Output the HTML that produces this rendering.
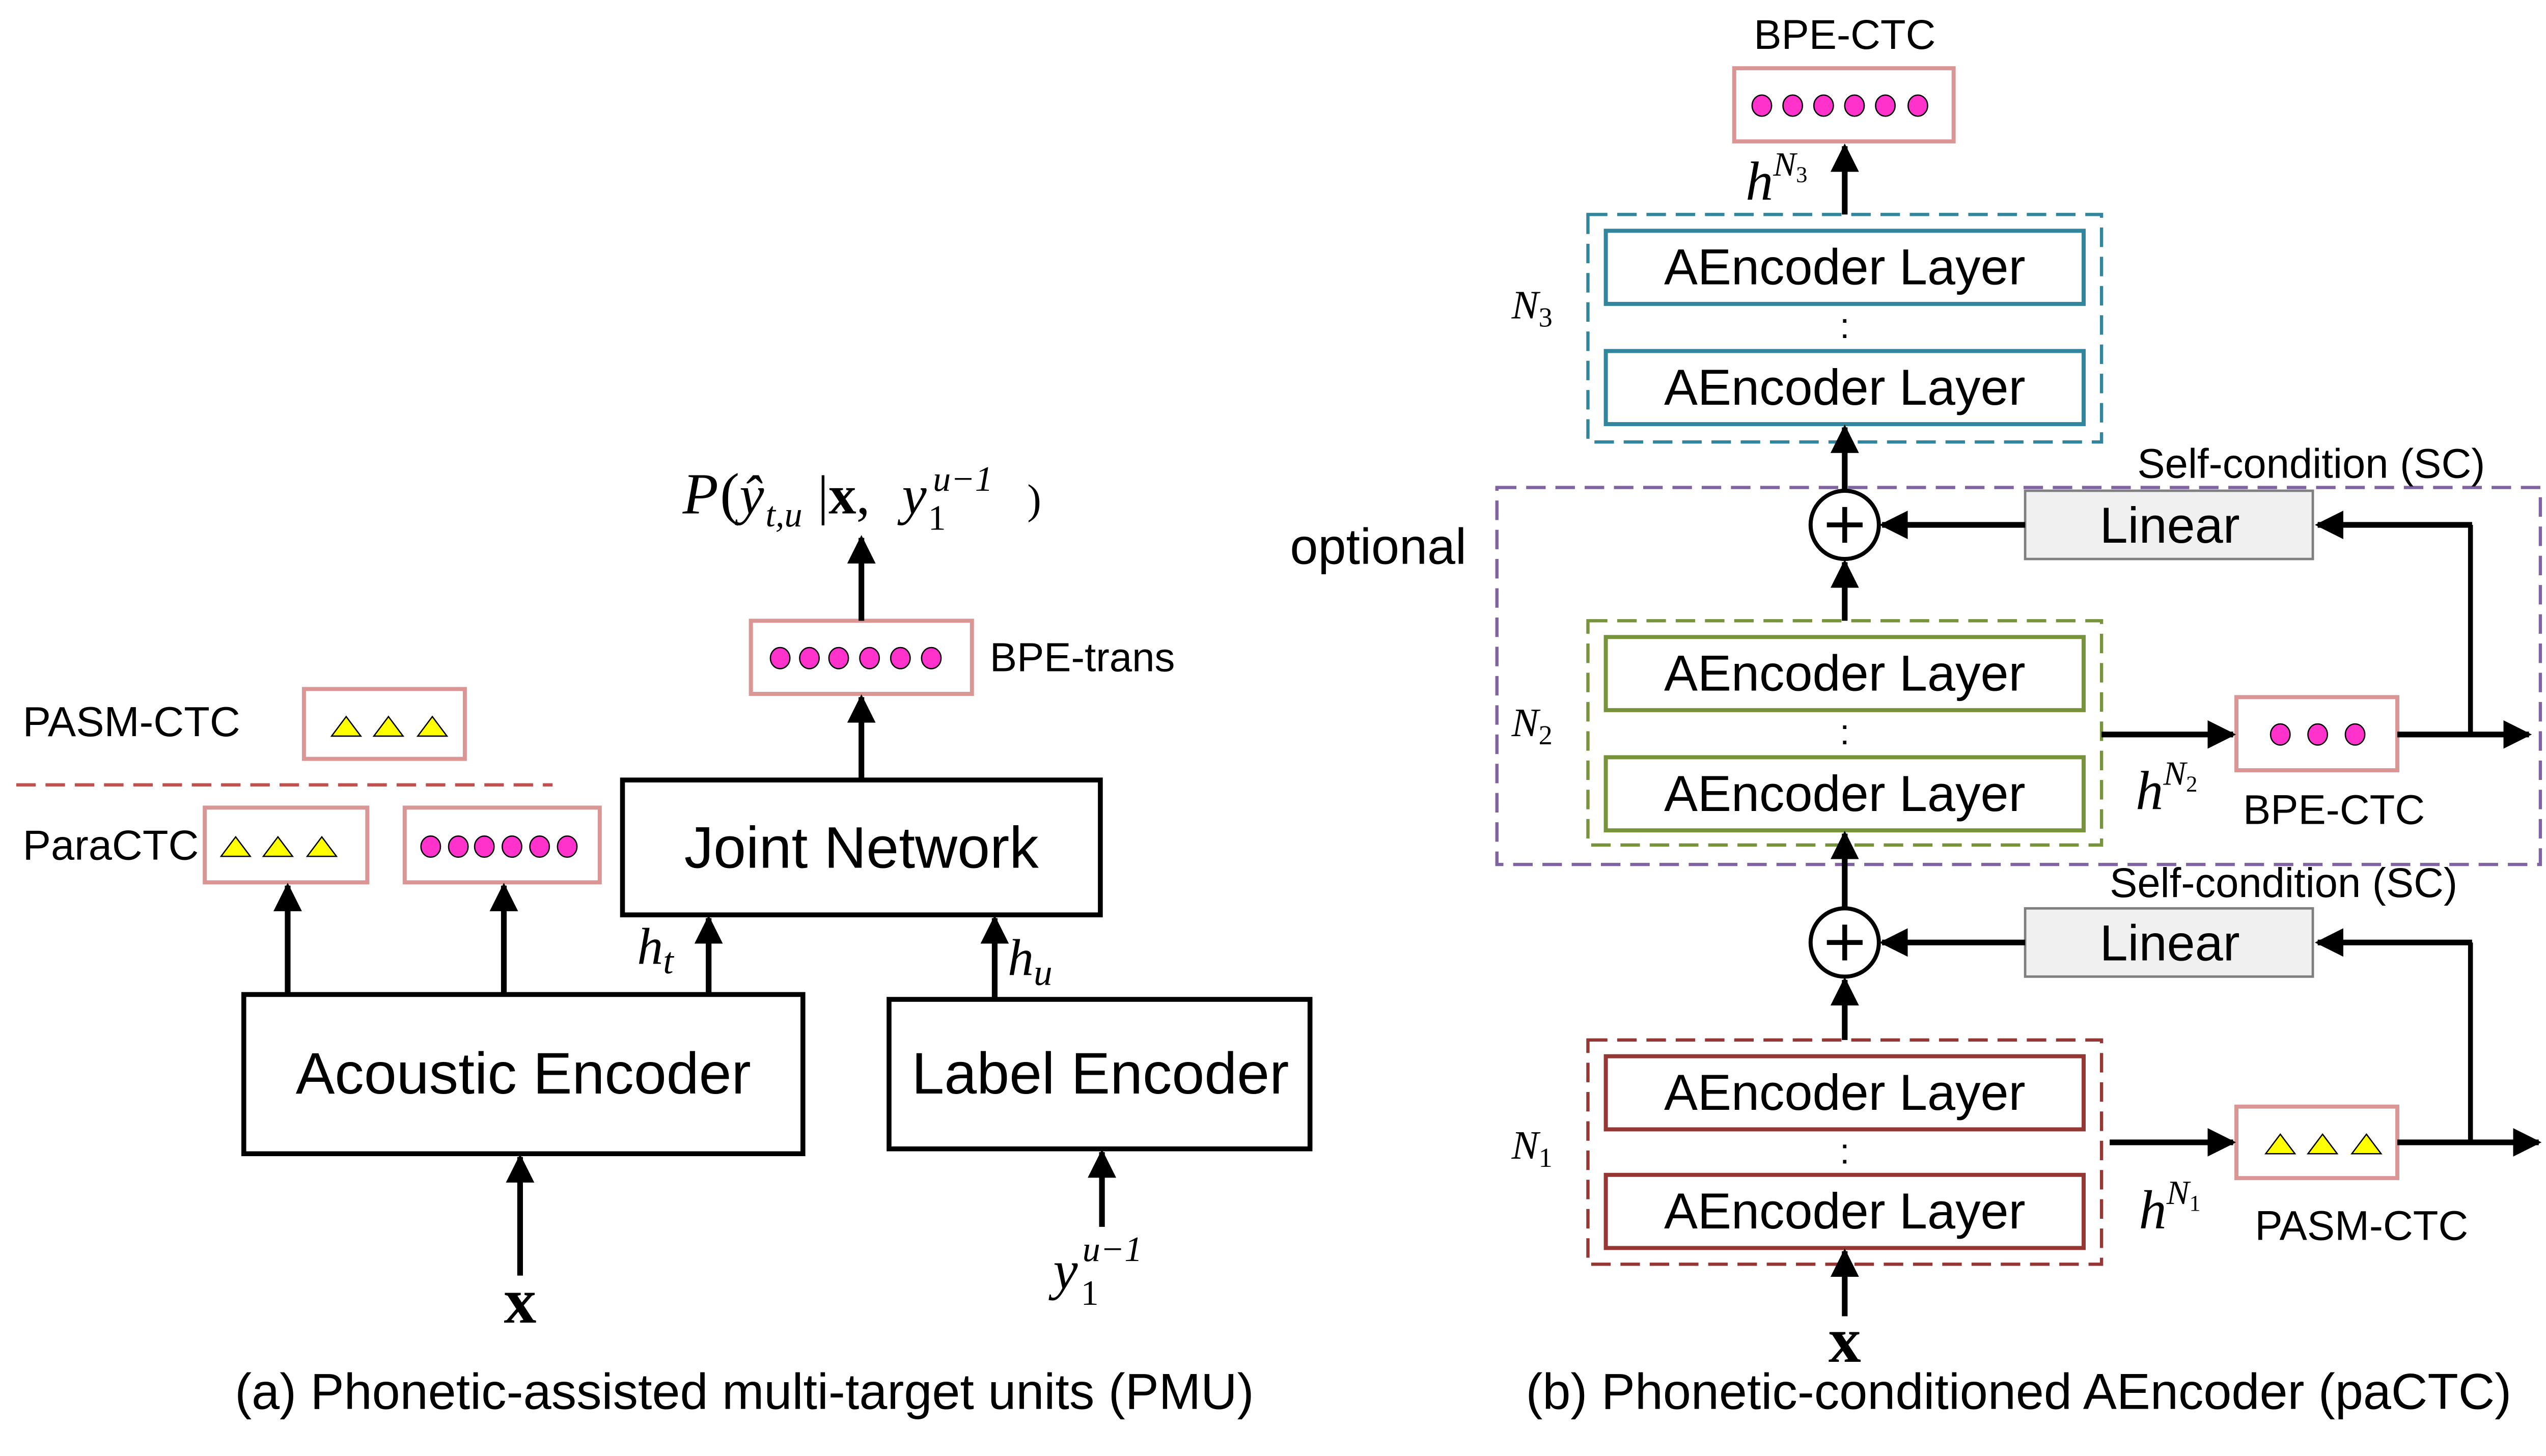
<!DOCTYPE html>
<html><head><meta charset="utf-8"><style>
html,body{margin:0;padding:0;background:#fff;width:5040px;height:2860px;overflow:hidden}
svg{display:block}
text{font-family:"Liberation Sans",sans-serif}
.m{font-family:"Liberation Serif",serif;font-style:italic}
.s{font-family:"Liberation Serif",serif}
</style></head><body>
<svg width="5040" height="2860" viewBox="0 0 1579 896" xmlns="http://www.w3.org/2000/svg">
<defs>
<marker id="a" viewBox="0 0 10 10" refX="9" refY="5" markerWidth="5" markerHeight="5.5" orient="auto" markerUnits="strokeWidth"><path d="M0,0 L10,5 L0,10 Z" fill="#000"/></marker>
<g id="c6"><ellipse cx="0" cy="0" rx="6" ry="6.5" fill="#ff33cc" stroke="#000" stroke-width="0.8"/></g>
<g id="tri"><path d="M-9,6 L0,-6 L9,6 Z" fill="#ffff00" stroke="#000" stroke-width="0.8"/></g>
</defs>
<g stroke="#000" stroke-width="3" fill="none">
<rect x="150" y="612" width="344" height="98"/>
<rect x="547" y="615" width="259" height="92"/>
<rect x="383" y="480" width="294" height="83"/>
</g>
<g stroke="#d99694" stroke-width="2.5" fill="#fff">
<rect x="462" y="382" width="136" height="45"/>
<rect x="187" y="424" width="99" height="43"/>
<rect x="126" y="497" width="100" height="46"/>
<rect x="249" y="497" width="120" height="46"/>
<rect x="1067" y="42" width="135" height="45"/>
<rect x="1376" y="429" width="99" height="45"/>
<rect x="1376" y="681" width="99" height="44"/>
</g>
<g>
<use href="#c6" x="480" y="405"/><use href="#c6" x="498" y="405"/><use href="#c6" x="516" y="405"/><use href="#c6" x="535" y="405"/><use href="#c6" x="554" y="405"/><use href="#c6" x="573" y="405"/>
<use href="#c6" x="265" y="521"/><use href="#c6" x="282" y="521"/><use href="#c6" x="298" y="521"/><use href="#c6" x="315" y="521"/><use href="#c6" x="332" y="521"/><use href="#c6" x="349" y="521"/>
<use href="#c6" x="1084" y="65"/><use href="#c6" x="1103" y="65"/><use href="#c6" x="1122" y="65"/><use href="#c6" x="1141" y="65"/><use href="#c6" x="1160" y="65"/><use href="#c6" x="1180" y="65"/>
<use href="#c6" x="1403" y="452"/><use href="#c6" x="1426" y="452"/><use href="#c6" x="1449" y="452"/>
<use href="#tri" x="213" y="447"/><use href="#tri" x="239" y="447"/><use href="#tri" x="266" y="447"/>
<use href="#tri" x="145" y="521"/><use href="#tri" x="171" y="521"/><use href="#tri" x="198" y="521"/>
<use href="#tri" x="1403" y="704"/><use href="#tri" x="1429" y="704"/><use href="#tri" x="1456" y="704"/>
</g>
<line x1="10" y1="483" x2="340" y2="483" stroke="#c0504d" stroke-width="2" stroke-dasharray="12,6"/>
<g stroke="#000" stroke-width="3.5" marker-end="url(#a)">
<line x1="177" y1="612" x2="177" y2="545"/>
<line x1="310" y1="612" x2="310" y2="545"/>
<line x1="436" y1="612" x2="436" y2="565"/>
<line x1="612" y1="615" x2="612" y2="565"/>
<line x1="530" y1="480" x2="530" y2="429"/>
<line x1="530" y1="382" x2="530" y2="331"/>
<line x1="320" y1="785" x2="320" y2="712"/>
<line x1="678" y1="755" x2="678" y2="709"/>
</g>
<g fill="#000">
<text x="322" y="673" font-size="36" text-anchor="middle">Acoustic Encoder</text>
<text x="677" y="673" font-size="36" text-anchor="middle">Label Encoder</text>
<text x="530" y="534" font-size="36" text-anchor="middle">Joint Network</text>
<text x="609" y="413" font-size="25">BPE-trans</text>
<text x="14" y="453" font-size="26">PASM-CTC</text>
<text x="14" y="529" font-size="26">ParaCTC</text>
<text class="m" x="392" y="593" font-size="32">h<tspan font-size="23" dy="6">t</tspan></text>
<text class="m" x="620" y="600" font-size="32">h<tspan font-size="23" dy="6">u</tspan></text>
<text class="s" x="320" y="814" font-size="40" font-weight="bold" text-anchor="middle">x</text>
<text class="m" x="648" y="793" font-size="34">y</text>
<text class="s" x="665" y="803" font-size="22">1</text>
<text class="m" x="666" y="776" font-size="22">u−1</text>
<text class="m" x="420" y="316" font-size="36">P</text>
<text class="s" x="443" y="316" font-size="36">(</text>
<text class="m" x="455" y="316" font-size="34">ŷ</text>
<text class="m" x="471" y="324" font-size="22">t,u</text>
<text class="s" x="503" y="316" font-size="34">|<tspan font-weight="bold">x</tspan>,</text>
<text class="m" x="555" y="316" font-size="34">y</text>
<text class="s" x="571" y="326" font-size="22">1</text>
<text class="m" x="574" y="302" font-size="22">u−1</text>
<text class="s" x="632" y="316" font-size="26">)</text>
<text x="458" y="867" font-size="31" text-anchor="middle">(a) Phonetic-assisted multi-target units  (PMU)</text>
<text x="1242" y="867" font-size="31" text-anchor="middle">(b)  Phonetic-conditioned AEncoder (paCTC)</text>
</g>
<g fill="none" stroke-width="2" stroke-dasharray="12,6">
<rect x="977" y="132" width="316" height="140" stroke="#31859c"/>
<rect x="921" y="300" width="642" height="232" stroke="#8064a2"/>
<rect x="977" y="382" width="316" height="138" stroke="#77933c"/>
<rect x="977" y="640" width="316" height="138" stroke="#953735"/>
</g>
<g fill="none" stroke-width="2.5">
<rect x="988" y="142" width="294" height="45" stroke="#31859c"/>
<rect x="988" y="216" width="294" height="45" stroke="#31859c"/>
<rect x="988" y="392" width="294" height="45" stroke="#77933c"/>
<rect x="988" y="466" width="294" height="45" stroke="#77933c"/>
<rect x="988" y="650" width="294" height="45" stroke="#953735"/>
<rect x="988" y="723" width="294" height="45" stroke="#953735"/>
</g>
<g fill="#f0f0f0" stroke="#7f7f7f" stroke-width="1.5">
<rect x="1246" y="302" width="177" height="42"/>
<rect x="1246" y="559" width="177" height="42"/>
</g>
<g fill="#fff" stroke="#000" stroke-width="2.5">
<circle cx="1135" cy="323" r="21"/>
<circle cx="1135" cy="580" r="21"/>
</g>
<g stroke="#000" stroke-width="3" fill="none">
<line x1="1124" y1="323" x2="1146" y2="323"/><line x1="1135" y1="312" x2="1135" y2="334"/>
<line x1="1124" y1="580" x2="1146" y2="580"/><line x1="1135" y1="569" x2="1135" y2="591"/>
<polyline points="1520,452 1520,323"/>
<polyline points="1520,703 1520,580"/>
</g>
<g stroke="#000" stroke-width="3.5" marker-end="url(#a)">
<line x1="1135" y1="132" x2="1135" y2="90"/>
<line x1="1135" y1="302" x2="1135" y2="263"/>
<line x1="1135" y1="382" x2="1135" y2="346"/>
<line x1="1135" y1="559" x2="1135" y2="513"/>
<line x1="1135" y1="640" x2="1135" y2="603"/>
<line x1="1135" y1="810" x2="1135" y2="770"/>
<line x1="1246" y1="323" x2="1158" y2="323"/>
<line x1="1246" y1="580" x2="1158" y2="580"/>
<line x1="1521" y1="323" x2="1426" y2="323"/>
<line x1="1521" y1="580" x2="1426" y2="580"/>
<line x1="1293" y1="452" x2="1374" y2="452"/>
<line x1="1475" y1="452" x2="1556" y2="452"/>
<line x1="1298" y1="703" x2="1374" y2="703"/>
<line x1="1475" y1="703" x2="1562" y2="703"/>
</g>
<g fill="#000" font-size="31">
<text x="1135" y="175" text-anchor="middle">AEncoder Layer</text>
<text x="1135" y="249" text-anchor="middle">AEncoder Layer</text>
<text x="1135" y="425" text-anchor="middle">AEncoder Layer</text>
<text x="1135" y="499" text-anchor="middle">AEncoder Layer</text>
<text x="1135" y="683" text-anchor="middle">AEncoder Layer</text>
<text x="1135" y="756" text-anchor="middle">AEncoder Layer</text>
<text x="1135" y="208" text-anchor="middle" font-size="22">:</text>
<text x="1135" y="458" text-anchor="middle" font-size="22">:</text>
<text x="1135" y="716" text-anchor="middle" font-size="22">:</text>
<text x="1335" y="334" text-anchor="middle">Linear</text>
<text x="1335" y="591" text-anchor="middle">Linear</text>
<text x="1135" y="30" text-anchor="middle" font-size="25.5">BPE-CTC</text>
<text x="1436" y="507" text-anchor="middle" font-size="25.5">BPE-CTC</text>
<text x="1453" y="763" text-anchor="middle" font-size="25.5">PASM-CTC</text>
<text x="1422" y="294" text-anchor="middle" font-size="25.5">Self-condition (SC)</text>
<text x="1405" y="552" text-anchor="middle" font-size="25.5">Self-condition (SC)</text>
<text x="848" y="347" text-anchor="middle">optional</text>
<text class="m" x="930" y="196" font-size="25">N<tspan font-size="17" dy="5" font-style="normal">3</tspan></text>
<text class="m" x="930" y="453" font-size="25">N<tspan font-size="17" dy="5" font-style="normal">2</tspan></text>
<text class="m" x="930" y="713" font-size="25">N<tspan font-size="17" dy="5" font-style="normal">1</tspan></text>
<text class="m" x="1074" y="123" font-size="34">h<tspan font-size="21" dy="-15">N</tspan><tspan font-size="14" dy="4" font-style="normal">3</tspan></text>
<text class="m" x="1314" y="498" font-size="34">h<tspan font-size="21" dy="-15">N</tspan><tspan font-size="14" dy="4" font-style="normal">2</tspan></text>
<text class="m" x="1316" y="756" font-size="34">h<tspan font-size="21" dy="-15">N</tspan><tspan font-size="14" dy="4" font-style="normal">1</tspan></text>
<text class="s" x="1135" y="838" text-anchor="middle" font-size="40" font-weight="bold">x</text>
</g>
</svg>
</body></html>
